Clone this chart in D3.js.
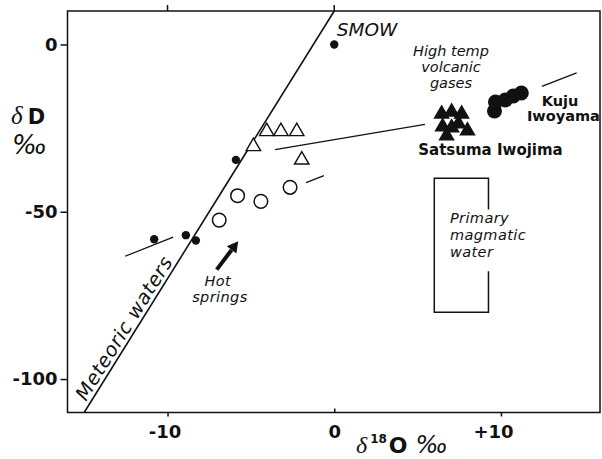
<!DOCTYPE html>
<html>
<head>
<meta charset="utf-8">
<script src="https://cdn.jsdelivr.net/npm/d3@7"></script>
<style>
  body { margin: 0; background: #fff; }
  svg { display: block; }
  text { fill: #111; }
</style>
</head>
<body>
<div class="chart"></div>
<script>
// d18O (permil), dD (permil)
const meteoricX = [0, -5.9, -10.8, -8.9, -8.3];
const meteoricY = [0, -34.5, -58.2, -57.0, -58.6];

const hotSpringX = [-5.8, -4.4, -2.65, -6.9];
const hotSpringY = [-45.2, -46.9, -42.7, -52.5];

const hotGasX = [-4.85, -4.05, -3.2, -2.25, -1.95];
const hotGasY = [-30.5, -26.0, -26.0, -26.0, -34.5];

const satsumaX = [6.44, 7.04, 7.64, 6.5, 7.45, 7.99, 6.74, 7.04];
const satsumaY = [-20.8, -20.2, -20.8, -24.6, -23.7, -25.8, -27.3, -24.9];

const kujuX = [9.61, 9.67, 10.26, 10.74, 11.22];
const kujuY = [-19.9, -17.2, -16.6, -15.4, -14.5];

const magmaticO = [6, 9.25];
const magmaticD = [-80, -40];

const xTicks = [-10, 0, 10];
const yTicks = [0, -50, -100];

const zip = (a, b) => a.map((v, i) => ({x: v, y: b[i]}));

const W = 602, H = 459;
const svg = d3.select('.chart').append('svg')
    .attr('width', W)
    .attr('height', H);

const x = d3.scaleLinear().domain([-16, 16]).range([67.5, 601]);
const y = d3.scaleLinear().domain([-110, 10]).range([412.5, 11]);

const sans = 'DejaVu Sans, sans-serif';
const ink = '#111';

// frame
svg.append('rect')
    .attr('x', x(-16)).attr('y', y(10))
    .attr('width', x(16) - x(-16) - 1).attr('height', y(-110) - y(10))
    .attr('fill', 'none').attr('stroke', ink).attr('stroke-width', 1.5);

// left axis
const yAxis = d3.axisLeft(y).tickValues(yTicks).tickSize(7).tickPadding(3)
    .tickFormat(d => String(d));
svg.append('g')
    .attr('transform', `translate(${x(-16)},0)`)
    .call(yAxis)
    .call(g => g.select('.domain').remove())
    .call(g => g.selectAll('line').attr('stroke', ink).attr('stroke-width', 1.5))
    .call(g => g.selectAll('text')
        .attr('font-family', sans).attr('font-weight', 'bold')
        .attr('font-size', 18).attr('fill', ink));

// bottom axis
const xAxis = d3.axisBottom(x).tickValues(xTicks).tickSize(4)
    .tickFormat(d => d > 0 ? '+' + d : String(d));
svg.append('g')
    .attr('transform', `translate(0,${y(-110)})`)
    .call(xAxis)
    .call(g => g.select('.domain').remove())
    .call(g => g.selectAll('line').attr('stroke', ink).attr('stroke-width', 1.5)
        .attr('y2', d => d === 0 ? -4 : 4))
    .call(g => g.selectAll('text')
        .attr('y', 13)
        .attr('dx', d => d > 0 ? -8 : (d < 0 ? -3 : 0))
        .attr('font-family', sans).attr('font-weight', 'bold')
        .attr('font-size', 18).attr('fill', ink));

// top ticks
svg.append('g')
    .selectAll('line')
    .data([-10, 0])
    .enter()
    .append('line')
    .attr('x1', d => x(d)).attr('x2', d => x(d))
    .attr('y1', y(10)).attr('y2', y(10) - 6)
    .attr('stroke', ink).attr('stroke-width', 1.5);

// meteoric water line dD = 8 d18O + 10
svg.append('line')
    .attr('x1', x(-15)).attr('y1', y(-110))
    .attr('x2', x(0)).attr('y2', y(10))
    .attr('stroke', ink).attr('stroke-width', 1.6);

const ang = Math.atan2(y(10) - y(-110), x(0) - x(-15)) * 180 / Math.PI;
{
  const ux = x(0) - x(-15), uy = y(10) - y(-110);
  const len = Math.hypot(ux, uy);
  const s = 10, off = 4;
  const bx = x(-15) + ux / len * s + (uy / len) * off;
  const by = y(-110) + uy / len * s - (ux / len) * off;
  svg.append('text')
    .attr('transform', `translate(${bx},${by}) rotate(${ang})`)
    .attr('font-family', sans).attr('font-style', 'italic')
    .attr('font-size', 19.5).attr('letter-spacing', 0.6)
    .text('Meteoric waters');
}

// primary magmatic water box (right side broken for label)
svg.append('path')
    .attr('d', d3.line()([
        [x(magmaticO[1]), y(-49.3)],
        [x(magmaticO[1]), y(magmaticD[1])],
        [x(magmaticO[0]), y(magmaticD[1])],
        [x(magmaticO[0]), y(magmaticD[0])],
        [x(magmaticO[1]), y(magmaticD[0])],
        [x(magmaticO[1]), y(-67.8)]
    ]))
    .attr('fill', 'none').attr('stroke', ink).attr('stroke-width', 1.5);

// leader lines
const leaders = [
    [[12.45, -12.5], [14.54, -8.5]],
    [[-3.55, -31.4], [5.44, -23.9]],
    [[-1.69, -41.3], [-0.62, -39.2]],
    [[-12.55, -63.3], [-9.66, -57.6]]
];
svg.append('g').selectAll('line')
    .data(leaders)
    .enter()
    .append('line')
    .attr('x1', d => x(d[0][0])).attr('y1', d => y(d[0][1]))
    .attr('x2', d => x(d[1][0])).attr('y2', d => y(d[1][1]))
    .attr('stroke', ink).attr('stroke-width', 1.3);

// points
svg.append('g').selectAll('circle')
    .data(zip(meteoricX, meteoricY))
    .enter()
    .append('circle')
    .attr('cx', d => x(d.x)).attr('cy', d => y(d.y))
    .attr('r', 4.2).attr('fill', ink);

svg.append('g').selectAll('circle')
    .data(zip(hotSpringX, hotSpringY))
    .enter()
    .append('circle')
    .attr('cx', d => x(d.x)).attr('cy', d => y(d.y))
    .attr('r', 6.8).attr('fill', '#fff')
    .attr('stroke', ink).attr('stroke-width', 1.5);

svg.append('g').selectAll('path')
    .data(zip(hotGasX, hotGasY))
    .enter()
    .append('path')
    .attr('d', d3.symbol(d3.symbolTriangle, 90)())
    .attr('transform', d => `translate(${x(d.x)},${y(d.y)})`)
    .attr('fill', '#fff').attr('stroke', ink).attr('stroke-width', 1.4);

svg.append('g').selectAll('path')
    .data(zip(satsumaX, satsumaY))
    .enter()
    .append('path')
    .attr('d', d3.symbol(d3.symbolTriangle, 118)())
    .attr('transform', d => `translate(${x(d.x)},${y(d.y)})`)
    .attr('fill', ink);

svg.append('g').selectAll('circle')
    .data(zip(kujuX, kujuY))
    .enter()
    .append('circle')
    .attr('cx', d => x(d.x)).attr('cy', d => y(d.y))
    .attr('r', 7.5).attr('fill', ink);

// hot springs arrow
{
  const x0 = x(-7.05), y0 = y(-67.3), x1 = x(-5.76), y1 = y(-58.8);
  const a = Math.atan2(y1 - y0, x1 - x0);
  const hl = 11, hw = 6;
  const bx = x1 - hl * Math.cos(a), by = y1 - hl * Math.sin(a);
  svg.append('line')
    .attr('x1', x0).attr('y1', y0).attr('x2', bx).attr('y2', by)
    .attr('stroke', ink).attr('stroke-width', 4);
  svg.append('path')
    .attr('d', d3.line()([
        [x1, y1],
        [bx + hw * Math.sin(a), by - hw * Math.cos(a)],
        [bx - hw * Math.sin(a), by + hw * Math.cos(a)]
    ]) + 'Z')
    .attr('fill', ink);
}

// labels
function label(txt, dx, dy, opts) {
  const t = svg.append('text')
    .attr('x', x(dx)).attr('y', y(dy))
    .attr('font-family', sans)
    .attr('font-size', opts.size)
    .attr('font-style', opts.italic ? 'italic' : 'normal')
    .attr('font-weight', opts.bold ? 'bold' : 'normal')
    .attr('text-anchor', opts.anchor || 'start')
    .text(txt);
  if (opts.ls) t.attr('letter-spacing', opts.ls);
  return t;
}
label('SMOW', 0.15, 2.5, {size: 18.5, italic: true});
label('High temp', 7.0, -3.4, {size: 14.5, italic: true, anchor: 'middle'});
label('volcanic', 7.0, -8.1, {size: 14.5, italic: true, anchor: 'middle'});
label('gases', 7.0, -12.9, {size: 14.5, italic: true, anchor: 'middle'});
label('Satsuma Iwojima', 5.04, -32.9, {size: 15, bold: true});
label('Kuju', 12.45, -18.3, {size: 14.5, bold: true});
label('Iwoyama', 11.56, -22.8, {size: 14.5, bold: true});
label('Primary', 6.94, -53.5, {size: 14.5, italic: true, ls: 0.4});
label('magmatic', 6.94, -58.5, {size: 14.5, italic: true, ls: 0.4});
label('water', 6.94, -63.5, {size: 14.5, italic: true, ls: 0.4});
label('Hot', -6.98, -72.3, {size: 14.5, italic: true, anchor: 'middle', ls: 0.4});
label('springs', -6.86, -77.1, {size: 14.5, italic: true, anchor: 'middle', ls: 0.4});

// y axis title
const yt = svg.append('text').attr('x', 11).attr('y', 124);
yt.append('tspan').attr('font-family', 'Liberation Serif, serif')
    .attr('font-style', 'italic').attr('font-size', 25).text('δ');
yt.append('tspan').attr('dx', 5).attr('font-family', sans)
    .attr('font-weight', 'bold').attr('font-size', 21).text('D');
svg.append('text').attr('x', 12).attr('y', 154)
    .attr('font-family', sans).attr('font-style', 'italic')
    .attr('font-size', 26).text('‰');

// x axis title
const xt = svg.append('text').attr('x', 356).attr('y', 453);
xt.append('tspan').attr('font-family', 'Liberation Serif, serif')
    .attr('font-style', 'italic').attr('font-size', 24).text('δ');
xt.append('tspan').attr('dx', 3).attr('dy', -10).attr('font-family', sans)
    .attr('font-weight', 'bold').attr('font-size', 12).text('18');
xt.append('tspan').attr('dx', 2).attr('dy', 10).attr('font-family', sans)
    .attr('font-weight', 'bold').attr('font-size', 22).text('O');
xt.append('tspan').attr('dx', 8).attr('font-family', sans)
    .attr('font-style', 'italic').attr('font-size', 24).text('‰');
</script>
</body>
</html>
